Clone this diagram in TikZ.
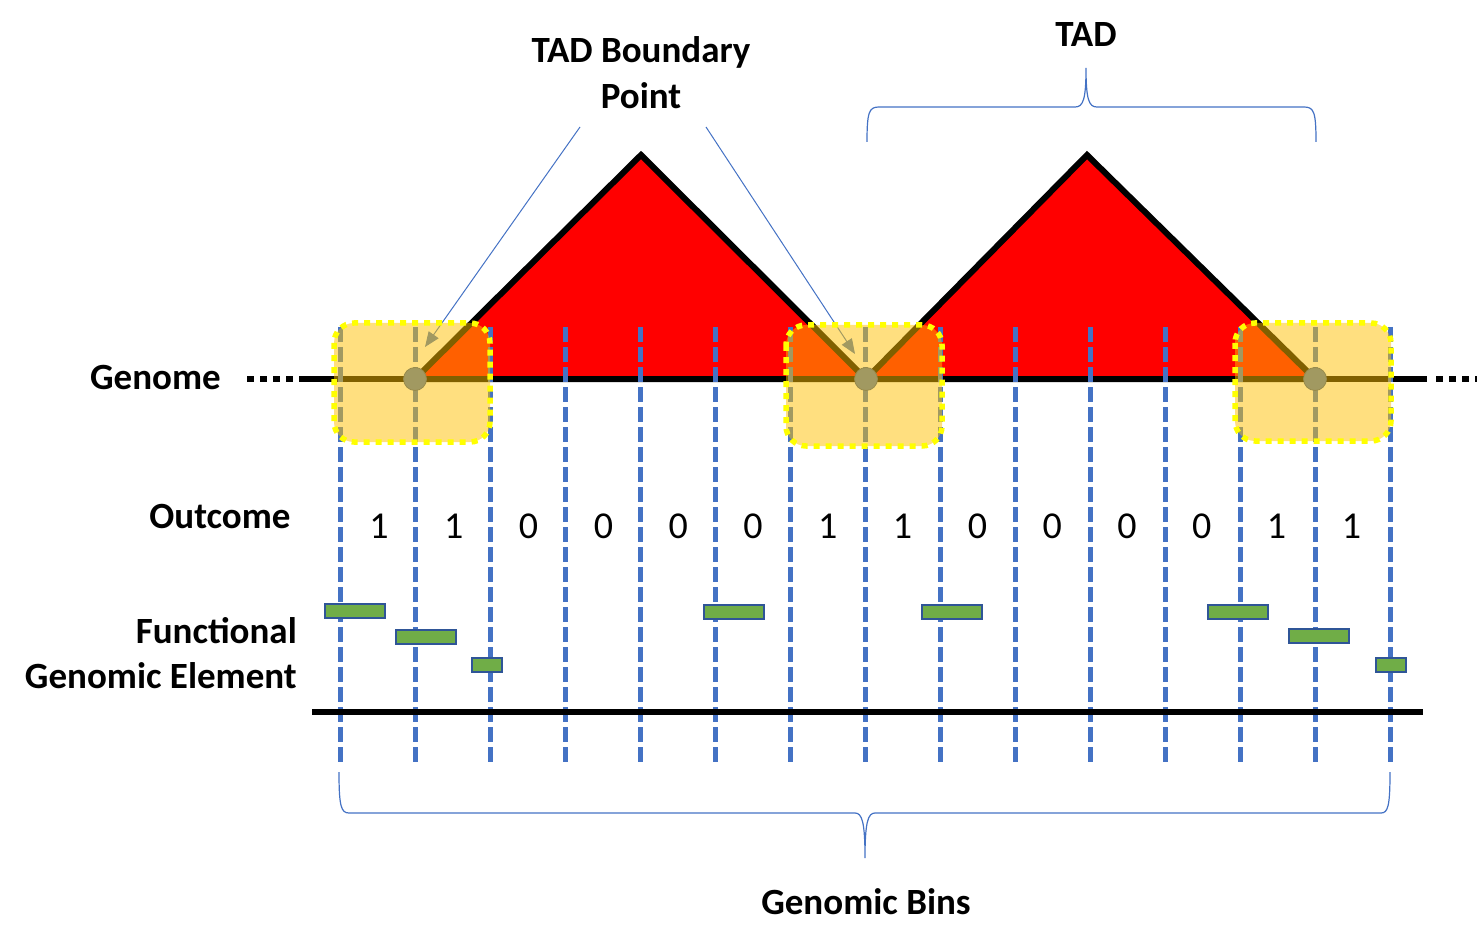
\documentclass[tikz,border=0pt]{standalone}
\usepackage{fontspec}
\setmainfont{Carlito}
\usetikzlibrary{arrows.meta}
\definecolor{tadred}{HTML}{FF0000}
\definecolor{binblue}{HTML}{4472C4}
\definecolor{boxorange}{HTML}{FFC000}
\definecolor{boxyellow}{HTML}{FFFF00}
\definecolor{elemgreen}{HTML}{70AD47}
\definecolor{elemborder}{HTML}{2F5597}
\tikzset{
  binline/.style={binblue, line width=5pt, dash pattern=on 15pt off 5pt},
  tadtri/.style={fill=tadred, draw=black, line width=6pt, line join=miter},
  genomeline/.style={black, line width=5.5pt},
  genomedots/.style={black, line width=5.5pt, dash pattern=on 7pt off 6pt},
  bpoint/.style={circle, fill=binblue, draw=elemborder, line width=0.8pt, minimum size=23pt, inner sep=0pt},
  callout/.style={binblue, line width=1pt, -{Triangle[length=15pt,width=12pt]}},
  bbox/.style={fill=boxorange, fill opacity=0.5, rounded corners=20pt},
  bboxborder/.style={draw=boxyellow, line width=5.5pt, dash pattern=on 6pt off 6pt, rounded corners=20pt},
  gbar/.style={fill=elemgreen, draw=elemborder, line width=2.2pt, inner sep=0pt, minimum height=14pt},
  bracestyle/.style={binblue, line width=1.2pt},
  lbl/.style={font=\bfseries\fontsize{37}{44}\selectfont, inner sep=0pt},
  digit/.style={font=\fontsize{38}{44}\selectfont, inner sep=0pt, anchor=base},
}
\begin{document}
\begin{tikzpicture}[x=1pt,y=-1pt]
\useasboundingbox (0,0) rectangle (1477,949);

% TAD triangles
\draw[tadtri] (415,379) -- (641,155) -- (866,379) -- cycle;
\draw[tadtri] (866,379) -- (1087,155) -- (1315,379) -- cycle;

% genome line
\draw[genomeline] (300,379) -- (1427,379);
\draw[genomedots] (247,379) -- (300,379);
\draw[genomedots] (1436,379) -- (1477,379);

% bin lines
\foreach \i in {0,...,14} {
  \draw[binline] ({340+75*\i},327) -- ({340+75*\i},763);
}

% bottom line
\draw[black, line width=6pt] (312,712) -- (1423,712);

% boundary points
\node[bpoint] (p1) at (415,379) {};
\node[bpoint] (p2) at (866,379) {};
\node[bpoint] (p3) at (1315,379) {};

% labels
\node[lbl, anchor=base] (tbp1) at (641,63) {TAD Boundary};
\node[lbl, anchor=base] (tbp2) at (641,109) {Point};
\node[lbl, anchor=base] (tad) at (1086,47) {TAD};
\node[lbl, anchor=base east] (genome) at (221,389) {Genome};
\node[lbl, anchor=base] (outcome) at (220,528) {Outcome};
\node[lbl, anchor=base east] (func1) at (297,643) {Functional};
\node[lbl, anchor=base east] (func2) at (297,688) {Genomic Element};
\node[lbl, anchor=base] (bins) at (866,914) {Genomic Bins};

% callouts
\coordinate (c1) at (580,127);
\coordinate (c2) at (706,127);
\coordinate (t1) at (425,347);
\coordinate (t2) at (855,354);
\draw[callout] (c1) -- (t1);
\draw[callout] (c2) -- (t2);

% boundary boxes
\fill[bbox] (334,323) rectangle (490,442);
\fill[bbox] (786,325) rectangle (942,446);
\fill[bbox] (1235,323) rectangle (1391,441);
\draw[bboxborder] (334,323) rectangle (490,442);
\draw[bboxborder] (786,325) rectangle (942,446);
\draw[bboxborder] (1235,323) rectangle (1391,441);

% outcomes
\foreach \v [count=\k from 0] in {1,1,0,0,0,0,1,1,0,0,0,0,1,1} {
  \node[digit] (o\k) at ({379+74.8*\k},538) {\v};
}

% functional genomic elements
\node[gbar, minimum width=60pt] (g1) at (355,611) {};
\node[gbar, minimum width=60pt] (g2) at (426,637) {};
\node[gbar, minimum width=30pt] (g3) at (487,665) {};
\node[gbar, minimum width=60pt] (g4) at (734,612) {};
\node[gbar, minimum width=60pt] (g5) at (952,612) {};
\node[gbar, minimum width=60pt] (g6) at (1238,612) {};
\node[gbar, minimum width=60pt] (g7) at (1319,636) {};
\node[gbar, minimum width=30pt] (g8) at (1391,665) {};

% braces
\draw[bracestyle] (867,142) .. controls (867,112) and (869,107) .. (879,107)
  -- (1075,107) .. controls (1083,107) and (1086,100) .. (1086,68)
  .. controls (1086,100) and (1089,107) .. (1097,107)
  -- (1304,107) .. controls (1314,107) and (1316,112) .. (1316,142);
\draw[bracestyle] (339,772) .. controls (339,806) and (341,813) .. (349,813)
  -- (855,813) .. controls (862,813) and (865,822) .. (865,858)
  .. controls (865,822) and (868,813) .. (875,813)
  -- (1381,813) .. controls (1388,813) and (1390,806) .. (1390,772);
\end{tikzpicture}
\end{document}
